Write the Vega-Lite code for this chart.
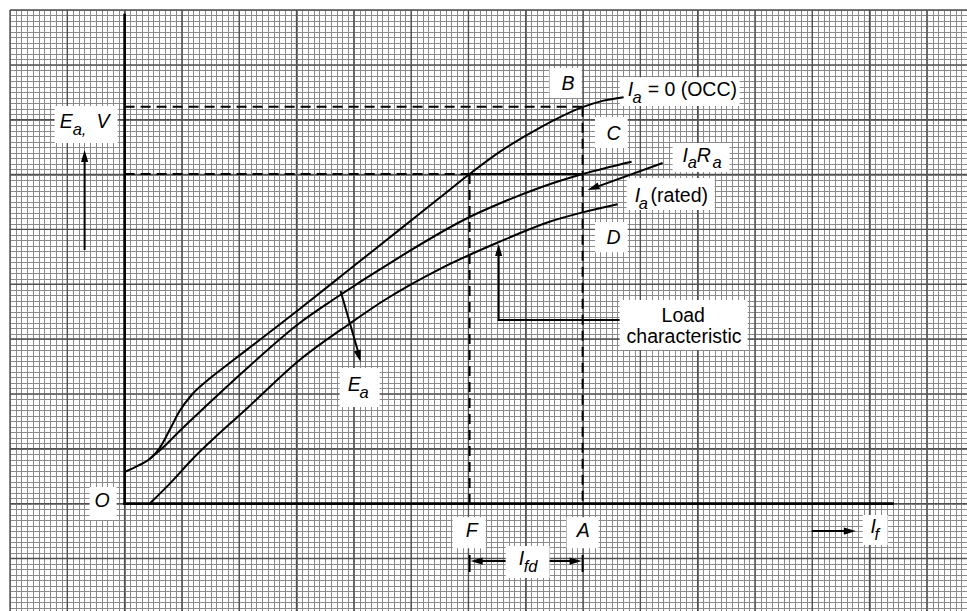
{
  "$schema": "https://vega.github.io/schema/vega-lite/v6.json",
  "width": 957,
  "height": 601,
  "padding": {"left": 10, "top": 10, "right": 0, "bottom": 0},
  "autosize": {"type": "none"},
  "background": "white",
  "config": {
    "view": {"stroke": null},
    "axis": {"domain": false, "ticks": false, "labels": false, "grid": true, "gridColor": "#8a8a8a", "gridWidth": 1, "gridOpacity": 1, "minExtent": 0}
  },
  "layer": [
    {
      "data": {"values": [{"gx": -20}, {"gx": -10}, {"gx": 0}, {"gx": 10}, {"gx": 20}, {"gx": 30}, {"gx": 40}, {"gx": 50}, {"gx": 60}, {"gx": 70}, {"gx": 80}, {"gx": 90}, {"gx": 100}, {"gx": 110}, {"gx": 120}, {"gx": 130}, {"gx": 140}]},
      "mark": {"type": "rule", "color": "#505050", "strokeWidth": 1.4},
      "encoding": {"x": {"field": "gx", "type": "quantitative", "scale": {"domain": [-20, 147], "nice": false, "zero": false}, "axis": {"tickCount": 168, "title": null}}}
    },
    {
      "data": {"values": [{"gy": -10}, {"gy": 0}, {"gy": 10}, {"gy": 20}, {"gy": 30}, {"gy": 40}, {"gy": 50}, {"gy": 60}, {"gy": 70}, {"gy": 80}, {"gy": 90}]},
      "mark": {"type": "rule", "color": "#505050", "strokeWidth": 1.4},
      "encoding": {"y": {"field": "gy", "type": "quantitative", "scale": {"domain": [-19.58, 90], "nice": false, "zero": false}, "axis": {"tickCount": 110, "title": null}}}
    },
    {
      "data": {"values": [
        {"x": -12.22, "x2": -1.22, "y": 72.49, "y2": 65.75},
        {"x": -6.11, "x2": -1.4, "y": 3.03, "y2": -2.99},
        {"x": 74.16, "x2": 79.75, "y": 79.41, "y2": 73.94},
        {"x": 82.09, "x2": 87.78, "y": 70.49, "y2": 64.84},
        {"x": 82.09, "x2": 87.78, "y": 51.35, "y2": 45.85},
        {"x": 86.38, "x2": 107.32, "y": 77.75, "y2": 72.49},
        {"x": 95.63, "x2": 105.58, "y": 65.75, "y2": 60.45},
        {"x": 87.6, "x2": 102.96, "y": 59.37, "y2": 53.52},
        {"x": 86.38, "x2": 108.72, "y": 37.12, "y2": 28.0},
        {"x": 37.52, "x2": 44.5, "y": 24.72, "y2": 17.61},
        {"x": 57.24, "x2": 63.0, "y": -2.48, "y2": -8.13},
        {"x": 77.13, "x2": 82.72, "y": -2.48, "y2": -8.13},
        {"x": 66.49, "x2": 74.16, "y": -7.73, "y2": -13.57},
        {"x": 128.79, "x2": 133.15, "y": -2.07, "y2": -7.55}
      ]},
      "mark": {"type": "rect", "fill": "white", "strokeWidth": 0},
      "encoding": {
        "x": {"field": "x", "type": "quantitative"},
        "x2": {"field": "x2"},
        "y": {"field": "y", "type": "quantitative"},
        "y2": {"field": "y2"}
      }
    },
    {
      "data": {"values": [
        {"c": "occ", "x": 0, "y": 5.76}, {"c": "occ", "x": 2.27, "y": 6.86}, {"c": "occ", "x": 4.36, "y": 8.13}, {"c": "occ", "x": 6.11, "y": 10.14}, {"c": "occ", "x": 7.85, "y": 13.42}, {"c": "occ", "x": 9.6, "y": 16.88}, {"c": "occ", "x": 11.69, "y": 19.8}, {"c": "occ", "x": 14.31, "y": 22.35}, {"c": "occ", "x": 18.32, "y": 25.64}, {"c": "occ", "x": 23.56, "y": 29.83}, {"c": "occ", "x": 30.54, "y": 35.48}, {"c": "occ", "x": 39.26, "y": 42.72}, {"c": "occ", "x": 47.99, "y": 49.96}, {"c": "occ", "x": 54.97, "y": 55.76}, {"c": "occ", "x": 60.2, "y": 60.1}, {"c": "occ", "x": 65.44, "y": 64.13}, {"c": "occ", "x": 72.42, "y": 68.53}, {"c": "occ", "x": 79.92, "y": 72.3}, {"c": "occ", "x": 83.41, "y": 73.43}, {"c": "occ", "x": 87.08, "y": 74.1},
        {"c": "emf", "x": 4.36, "y": 8.13}, {"c": "emf", "x": 6.98, "y": 10.5}, {"c": "emf", "x": 9.6, "y": 13.24}, {"c": "emf", "x": 13.09, "y": 16.7}, {"c": "emf", "x": 21.81, "y": 25.09}, {"c": "emf", "x": 30.54, "y": 32.93}, {"c": "emf", "x": 36.3, "y": 37.12}, {"c": "emf", "x": 47.99, "y": 44.96}, {"c": "emf", "x": 60.2, "y": 52.26}, {"c": "emf", "x": 65.44, "y": 54.72}, {"c": "emf", "x": 72.42, "y": 57.6}, {"c": "emf", "x": 79.92, "y": 60.1}, {"c": "emf", "x": 88.47, "y": 62.35},
        {"c": "load", "x": 4.48, "y": 0.11}, {"c": "load", "x": 7.85, "y": 3.6}, {"c": "load", "x": 11.69, "y": 7.95}, {"c": "load", "x": 21.81, "y": 17.8}, {"c": "load", "x": 30.54, "y": 26.18}, {"c": "load", "x": 39.26, "y": 32.8}, {"c": "load", "x": 45.37, "y": 37.12}, {"c": "load", "x": 54.97, "y": 42.77}, {"c": "load", "x": 64.92, "y": 47.51}, {"c": "load", "x": 74.16, "y": 51.4}, {"c": "load", "x": 79.92, "y": 53.1}, {"c": "load", "x": 86.03, "y": 54.6}
      ]},
      "mark": {"type": "line", "interpolate": "monotone", "color": "black", "strokeWidth": 2},
      "encoding": {
        "x": {"field": "x", "type": "quantitative"},
        "y": {"field": "y", "type": "quantitative"},
        "detail": {"field": "c"}
      }
    },
    {
      "data": {"values": [
        {"s": "ay", "o": 0, "x": 0, "y": 89.09}, {"s": "ay", "o": 1, "x": 0, "y": 0},
        {"s": "ax", "o": 0, "x": 0, "y": 0}, {"s": "ax", "o": 1, "x": 134.0, "y": 0}
      ]},
      "mark": {"type": "line", "color": "black", "strokeWidth": 2.6, "strokeCap": "square"},
      "encoding": {
        "x": {"field": "x", "type": "quantitative"},
        "y": {"field": "y", "type": "quantitative"},
        "detail": {"field": "s"},
        "order": {"field": "o"}
      }
    },
    {
      "data": {"values": [
        {"s": "sh", "o": 0, "x": 60.2, "y": 60.1}, {"s": "sh", "o": 1, "x": 79.92, "y": 60.1},
        {"s": "t1", "o": 0, "x": 60.2, "y": -9.37}, {"s": "t1", "o": 1, "x": 60.2, "y": -12.47},
        {"s": "t2", "o": 0, "x": 79.92, "y": -9.37}, {"s": "t2", "o": 1, "x": 79.92, "y": -12.47},
        {"s": "a1", "o": 0, "x": 66.49, "y": -10.47}, {"s": "a1", "o": 1, "x": 61.5, "y": -10.47},
        {"s": "a2", "o": 0, "x": 74.16, "y": -10.47}, {"s": "a2", "o": 1, "x": 78.6, "y": -10.47},
        {"s": "a3", "o": 0, "x": 119.9, "y": -5.0}, {"s": "a3", "o": 1, "x": 126.0, "y": -5.0},
        {"s": "a4", "o": 0, "x": -6.98, "y": 46.24}, {"s": "a4", "o": 1, "x": -6.98, "y": 62.5},
        {"s": "a5", "o": 0, "x": 93.89, "y": 62.1}, {"s": "a5", "o": 1, "x": 82.5, "y": 57.8},
        {"s": "a6", "o": 0, "x": 37.69, "y": 38.76}, {"s": "a6", "o": 1, "x": 40.8, "y": 27.5},
        {"s": "lc", "o": 0, "x": 86.38, "y": 33.46}, {"s": "lc", "o": 1, "x": 65.27, "y": 33.46}, {"s": "lc", "o": 2, "x": 65.27, "y": 45.5}
      ]},
      "mark": {"type": "line", "color": "black", "strokeWidth": 2},
      "encoding": {
        "x": {"field": "x", "type": "quantitative"},
        "y": {"field": "y", "type": "quantitative"},
        "detail": {"field": "s"},
        "order": {"field": "o"}
      }
    },
    {
      "data": {"values": [
        {"x": 0, "x2": 79.92, "y": 72.37, "y2": 72.37},
        {"x": 0, "x2": 60.2, "y": 60.1, "y2": 60.1},
        {"x": 60.2, "x2": 60.2, "y": 60.1, "y2": 0},
        {"x": 79.92, "x2": 79.92, "y": 72.37, "y2": 0}
      ]},
      "mark": {"type": "rule", "color": "black", "strokeWidth": 2, "strokeDash": [10, 6]},
      "encoding": {
        "x": {"field": "x", "type": "quantitative"},
        "x2": {"field": "x2"},
        "y": {"field": "y", "type": "quantitative"},
        "y2": {"field": "y2"}
      }
    },
    {
      "data": {"values": [{"x": -6.98, "y": 64.46}, {"x": 65.27, "y": 47.33}]},
      "mark": {"type": "point", "shape": "M0,0L0.3,1L-0.3,1Z", "size": 576, "filled": true, "color": "black", "opacity": 1, "angle": 0},
      "encoding": {"x": {"field": "x", "type": "quantitative"}, "y": {"field": "y", "type": "quantitative"}}
    },
    {
      "data": {"values": [{"x": 127.6, "y": -5.0}, {"x": 79.75, "y": -10.47}]},
      "mark": {"type": "point", "shape": "M0,0L0.3,1L-0.3,1Z", "size": 576, "filled": true, "color": "black", "opacity": 1, "angle": 90},
      "encoding": {"x": {"field": "x", "type": "quantitative"}, "y": {"field": "y", "type": "quantitative"}}
    },
    {
      "data": {"values": [{"x": 60.38, "y": -10.47}]},
      "mark": {"type": "point", "shape": "M0,0L0.3,1L-0.3,1Z", "size": 576, "filled": true, "color": "black", "opacity": 1, "angle": 270},
      "encoding": {"x": {"field": "x", "type": "quantitative"}, "y": {"field": "y", "type": "quantitative"}}
    },
    {
      "data": {"values": [{"x": 80.8, "y": 57.18}]},
      "mark": {"type": "point", "shape": "M0,0L0.3,1L-0.3,1Z", "size": 576, "filled": true, "color": "black", "opacity": 1, "angle": 250},
      "encoding": {"x": {"field": "x", "type": "quantitative"}, "y": {"field": "y", "type": "quantitative"}}
    },
    {
      "data": {"values": [{"x": 41.18, "y": 25.82}]},
      "mark": {"type": "point", "shape": "M0,0L0.3,1L-0.3,1Z", "size": 576, "filled": true, "color": "black", "opacity": 1, "angle": 164},
      "encoding": {"x": {"field": "x", "type": "quantitative"}, "y": {"field": "y", "type": "quantitative"}}
    },
    {
      "data": {"values": [
        {"t": "E", "x": -11.34, "y": 68.48},
        {"t": "V", "x": -4.89, "y": 68.48},
        {"t": "O", "x": -5.24, "y": -0.62},
        {"t": "B", "x": 76.26, "y": 75.41},
        {"t": "C", "x": 84.11, "y": 66.29},
        {"t": "D", "x": 84.11, "y": 47.4},
        {"t": "I", "x": 87.78, "y": 74.32},
        {"t": "I", "x": 97.37, "y": 62.28},
        {"t": "R", "x": 99.82, "y": 62.28},
        {"t": "I", "x": 89.0, "y": 54.99},
        {"t": "E", "x": 38.92, "y": 20.53},
        {"t": "F", "x": 59.51, "y": -6.09},
        {"t": "A", "x": 78.88, "y": -6.09},
        {"t": "I", "x": 68.76, "y": -11.19},
        {"t": "I", "x": 130.18, "y": -5.4}
      ]},
      "mark": {"type": "text", "font": "Liberation Sans", "fontSize": 19.5, "fontStyle": "italic", "align": "left", "baseline": "alphabetic", "color": "black"},
      "encoding": {"x": {"field": "x", "type": "quantitative"}, "y": {"field": "y", "type": "quantitative"}, "text": {"field": "t"}}
    },
    {
      "data": {"values": [
        {"t": "a,", "x": -9.07, "y": 67.21},
        {"t": "a", "x": 88.65, "y": 73.04},
        {"t": "a", "x": 98.25, "y": 61.17},
        {"t": "a", "x": 102.61, "y": 61.17},
        {"t": "a", "x": 89.7, "y": 53.71},
        {"t": "a", "x": 41.01, "y": 19.25},
        {"t": "fd", "x": 69.63, "y": -12.47},
        {"t": "f", "x": 130.88, "y": -6.64}
      ]},
      "mark": {"type": "text", "font": "Liberation Sans", "fontSize": 16.5, "fontStyle": "italic", "align": "left", "baseline": "alphabetic", "color": "black"},
      "encoding": {"x": {"field": "x", "type": "quantitative"}, "y": {"field": "y", "type": "quantitative"}, "text": {"field": "t"}}
    },
    {
      "data": {"values": [
        {"t": "= 0 (OCC)", "x": 91.27, "y": 74.32},
        {"t": "(rated)", "x": 91.79, "y": 54.99},
        {"t": "Load", "x": 93.7, "y": 33.11},
        {"t": "characteristic", "x": 87.6, "y": 29.26}
      ]},
      "mark": {"type": "text", "font": "Liberation Sans", "fontSize": 19.5, "align": "left", "baseline": "alphabetic", "color": "black"},
      "encoding": {"x": {"field": "x", "type": "quantitative"}, "y": {"field": "y", "type": "quantitative"}, "text": {"field": "t"}}
    }
  ]
}
